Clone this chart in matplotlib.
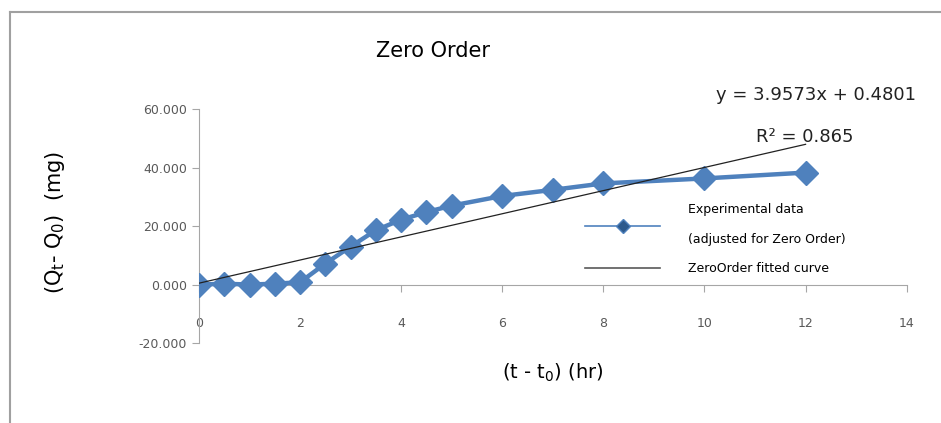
import numpy as np
import matplotlib.pyplot as plt
from matplotlib.lines import Line2D

# release data, time since start (hr) vs amount released (mg)
t_hr = [0, 0.5, 1, 1.5, 2, 2.5, 3, 3.5, 4, 4.5, 5, 6, 7, 8, 10, 12]
q_mg = [0.0, 0.3, 0.0, 0.3, 0.8, 7.2, 13.0, 18.6, 22.2, 24.8, 27.0, 30.3, 32.4, 34.6, 36.3, 38.3]

# zero order fit
slope = 3.9573
intercept = 0.4801
r2 = 0.865

blue = '#4F81BD'
gray = '#595959'

fig = plt.figure(figsize=(9.41, 4.23), dpi=100)
ax = fig.add_axes([0.2115, 0.189, 0.752, 0.553])

ax.plot(t_hr, q_mg, '-D', color=blue, lw=3.2, ms=12, mec=blue, mfc=blue, zorder=3)
xf = np.array([0, 12])
ax.plot(xf, slope * xf + intercept, color='#222222', lw=0.9, zorder=4)

ax.set_xlim(0, 14)
ax.set_ylim(-20, 60)
ax.set_xticks(range(0, 15, 2))
ax.set_yticks([-20, 0, 20, 40, 60])
ax.set_yticklabels(['%.3f' % v for v in [-20, 0, 20, 40, 60]])

for s in ['top', 'right']:
    ax.spines[s].set_visible(False)
ax.spines['bottom'].set_position(('data', 0))
ax.spines['bottom'].set_color('#a6a6a6')
ax.spines['left'].set_color('#a6a6a6')
ax.tick_params(axis='both', colors='#a6a6a6', labelcolor=gray, labelsize=9, length=5)
ax.tick_params(axis='x', direction='out', pad=18)
for lab in ax.get_xticklabels():
    lab.set_color(gray)

fig.text(0.46, 0.88, 'Zero Order', ha='center', va='center', fontsize=15)
fig.text(0.587, 0.118, r'(t - t$_\mathrm{0}$) (hr)', ha='center', va='center', fontsize=14)
fig.text(0.058, 0.475, r'(Q$_\mathrm{t}$- Q$_\mathrm{0}$)  (mg)', ha='center', va='center',
         fontsize=15, rotation=90)
fig.text(0.973, 0.775, 'y = 3.9573x + 0.4801', ha='right', va='center', fontsize=13,
         color='#222222')
fig.text(0.907, 0.675, 'R² = 0.865', ha='right', va='center', fontsize=13,
         color='#222222')

handles = [Line2D([], [], color=blue, lw=1.2, marker='D', ms=7, mfc='#2e5a8c', mec=blue),
           Line2D([], [], color=gray, lw=1.2)]
leg = ax.legend(handles, ['Experimental data\n(adjusted for Zero Order)', 'ZeroOrder fitted curve'],
                loc='upper left', bbox_to_anchor=(0.53, 0.645), frameon=False, fontsize=9,
                handlelength=6, handletextpad=2.2, labelspacing=1.25)
leg.get_texts()[0].set_linespacing(2.7)

# outer chart border
fig.add_artist(Line2D([0.0105, 0.0105], [0.0, 0.972], color='#a0a0a0', lw=1.5))
fig.add_artist(Line2D([0.0105, 1.0], [0.972, 0.972], color='#a0a0a0', lw=1.5))

fig.savefig('out.png', dpi=100)
